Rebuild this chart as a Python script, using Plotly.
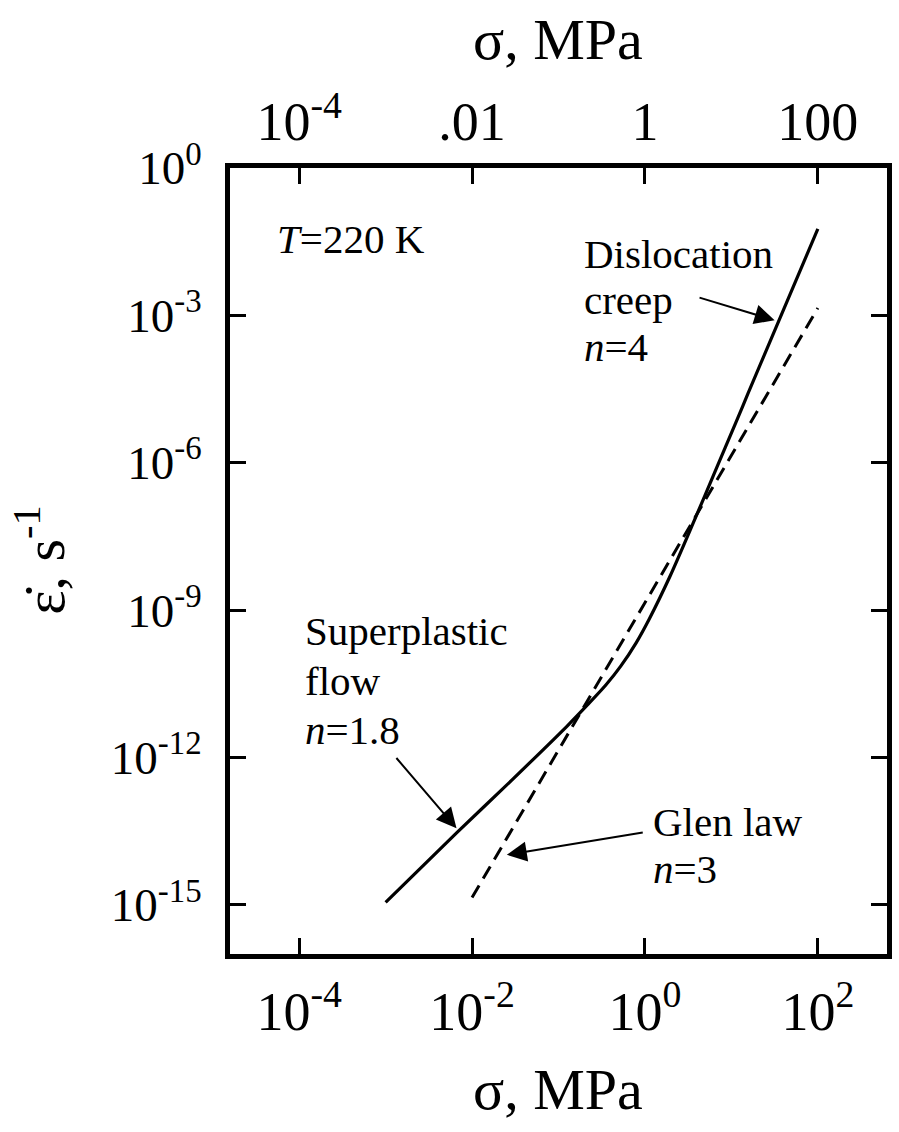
import plotly.graph_objects as go

# Strain rate vs stress for ice at T = 220 K (log10 units)
sigma_total = [-3.0, -2.17, -1.54, -0.90, -0.665, -0.45, -0.28, -0.10, 0.05, 0.29, 0.56, 0.83, 1.05, 1.19, 1.52, 2.0]
rate_total = [-14.95, -13.52, -12.46, -11.36, -10.93, -10.52, -10.14, -9.66, -9.18, -8.31, -7.22, -6.10, -5.19, -4.60, -3.23, -1.24]

sigma_glen = [-2.0, 2.0]
rate_glen = [-14.85, -2.85]

x_ticks = [1e-4, 1e-2, 1e0, 1e2]
x_ticktext_bottom = ["10<sup>-4</sup>", "10<sup>-2</sup>", "10<sup>0</sup>", "10<sup>2</sup>"]
x_ticktext_top = ["10<sup>-4</sup>", ".01", "1", "100"]
y_ticks = [1e0, 1e-3, 1e-6, 1e-9, 1e-12, 1e-15]
y_ticktext = ["10<sup>0</sup>", "10<sup>-3</sup>", "10<sup>-6</sup>", "10<sup>-9</sup>",
              "10<sup>-12</sup>", "10<sup>-15</sup>"]

FONT = "Liberation Serif"
W, H = 899, 1132
L, R, T, B = 229.5, 6.5, 168.3, 177.5

fig = go.Figure()
fig.add_trace(go.Scatter(
    x=[10 ** v for v in sigma_total], y=[10 ** v for v in rate_total],
    mode="lines", line=dict(color="black", width=3.2, shape="spline", smoothing=0.8),
    showlegend=False, hoverinfo="skip"))
# Glen law drawn against the top stress axis (same range as the bottom one)
fig.add_trace(go.Scatter(
    x=[10 ** v for v in sigma_glen], y=[10 ** v for v in rate_glen], xaxis="x2",
    mode="lines", line=dict(color="black", width=3, dash="14px,8px"),
    showlegend=False, hoverinfo="skip"))

axis_common = dict(type="log", showgrid=False, zeroline=False,
                   tickfont=dict(family=FONT, size=54, color="black"))

fig.update_layout(
    width=W, height=H,
    margin=dict(l=L, r=R, t=T, b=B, pad=0),
    paper_bgcolor="white", plot_bgcolor="white",
    xaxis=dict(**axis_common, range=[-4.8, 2.8], tickvals=x_ticks, ticktext=x_ticktext_bottom,
               showline=True, linewidth=5, linecolor="black", mirror="ticks",
               ticks="inside", ticklen=16, tickwidth=3, tickcolor="black",
               ticklabelstandoff=6),
    xaxis2=dict(**axis_common, range=[-4.8, 2.8], tickvals=x_ticks, ticktext=x_ticktext_top,
                overlaying="x", side="top", anchor="y", showline=False, ticks="",
                ticklabelstandoff=16),
    yaxis=dict(**axis_common, range=[-16, 0], tickvals=y_ticks, ticktext=y_ticktext,
               showline=True, linewidth=5, linecolor="black", mirror="ticks",
               ticks="inside", ticklen=16, tickwidth=3, tickcolor="black",
               ticklabelstandoff=14),
)
fig.layout.yaxis.tickfont.size = 47


def px_to_paper(px, py):
    return (px - L) / (W - L - R), (H - B - py) / (H - T - B)


ann = []
# axis titles
for (px, py) in [(560, 40), (560, 1090)]:
    xp, yp = px_to_paper(px, py)
    ann.append(dict(text="σ, MPa", x=xp, y=yp, xref="paper", yref="paper",
                    xanchor="center", yanchor="middle",
                    showarrow=False, font=dict(family=FONT, size=58, color="black")))
xp, yp = px_to_paper(38, 560)
ann.append(dict(text="ε\u0307, s<sup>-1</sup>", x=xp, y=yp, xref="paper", yref="paper",
                xanchor="center", yanchor="middle",
                textangle=-90, showarrow=False, font=dict(family=FONT, size=58, color="black")))

# labels inside the plot (log10 data units)
labels = [
    ("<i>T</i>=220 K", -4.285, -1.45),
    ("Dislocation", -0.729, -1.76),
    ("creep", -0.729, -2.68),
    ("<i>n</i>=4", -0.729, -3.65),
    ("Superplastic", -3.96, -9.42),
    ("flow", -3.96, -10.44),
    ("<i>n</i>=1.8", -3.96, -11.45),
    ("Glen law", 0.066, -13.31),
    ("<i>n</i>=3", 0.066, -14.27),
]
for text, x, y in labels:
    ann.append(dict(text=text, x=x, y=y, xref="x", yref="y", xanchor="left", yanchor="middle",
                    showarrow=False, font=dict(family=FONT, size=41, color="black")))

# arrows: (head x, head y, tail x, tail y)
arrows = [
    (1.50, -3.10, 0.614, -2.63),
    (-2.18, -13.44, -2.89, -11.98),
    (-1.598, -13.98, -0.008, -13.52),
]
for hx, hy, tx, ty in arrows:
    ann.append(dict(text="", x=hx, y=hy, ax=tx, ay=ty, xref="x", yref="y", axref="x", ayref="y",
                    showarrow=True, arrowhead=2, arrowsize=2, arrowwidth=2, arrowcolor="black",
                    standoff=0))

fig.update_layout(annotations=ann)
fig.write_html("out.html")
